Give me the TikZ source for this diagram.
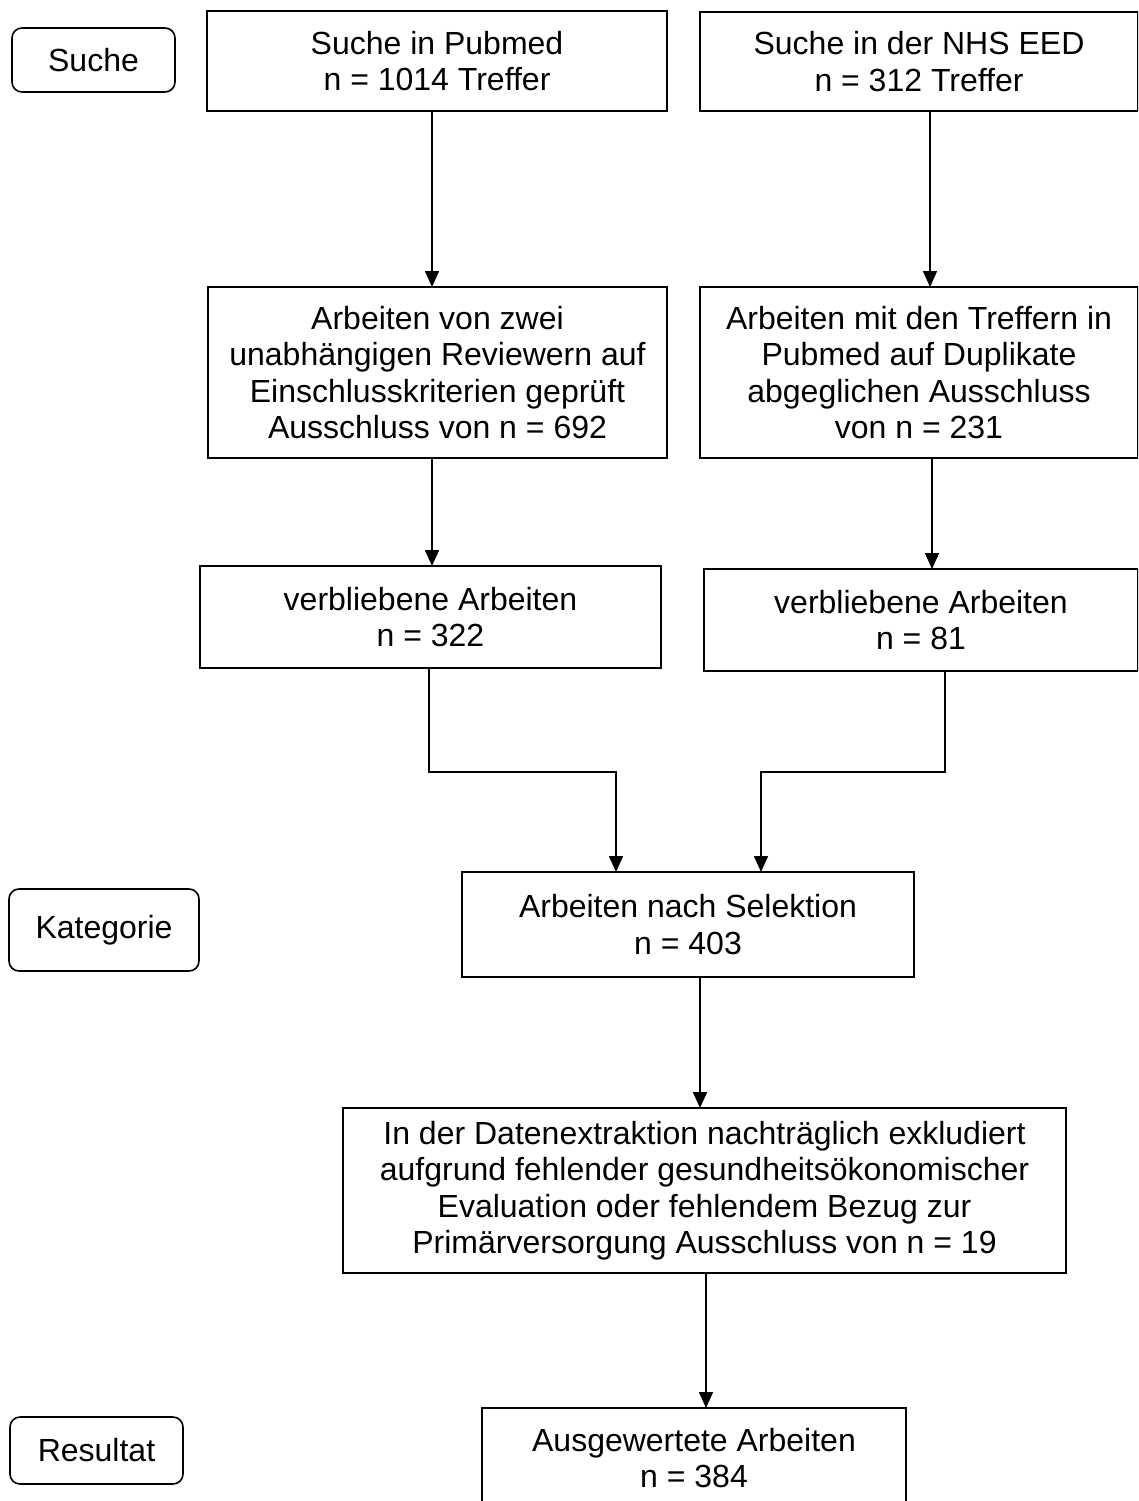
\documentclass[tikz,border=0pt]{standalone}
\usepackage{fontspec}
\setmainfont{Liberation Sans}
\usetikzlibrary{arrows.meta}
\begin{document}
\begin{tikzpicture}[x=1pt,y=-1pt,
 box/.style={draw, line width=1.6pt, rectangle, inner sep=0pt, outer sep=0pt, align=center, font=\fontsize{32}{36.5}\selectfont},
 lab/.style={box, rounded corners=10pt},
 arr/.style={line width=1.6pt, -{Triangle[width=14pt,length=16pt]}},
 ln/.style={line width=1.6pt}]
\useasboundingbox (0,0) rectangle (1138,1501);
\clip (0,0) rectangle (1138,1501);
\fill[white] (0,0) rectangle (1138,1501);
% labels
\node[lab, minimum width=163pt, minimum height=64pt] (suche) at (93.5,60) {Suche};
\node[lab, minimum width=190pt, minimum height=82pt] (kat) at (104,930) {Kategorie};
\node[lab, minimum width=173pt, minimum height=67pt] (res) at (96.5,1450.5) {Resultat};
% boxes
\node[box, minimum width=460pt, minimum height=100pt] (pub) at (437,61) {Suche in Pubmed\\n = 1014 Treffer};
\node[box, minimum width=438pt, minimum height=99pt] (nhs) at (919,61.5) {Suche in der NHS EED\\n = 312 Treffer};
\node[box, minimum width=459pt, minimum height=171pt] (rev) at (437.5,372.5) {Arbeiten von zwei\\unabhängigen Reviewern auf\\Einschlusskriterien geprüft\\Ausschluss von n = 692};
\node[box, minimum width=438pt, minimum height=171pt] (dup) at (919,372.5) {Arbeiten mit den Treffern in\\Pubmed auf Duplikate\\abgeglichen Ausschluss\\von n = 231};
\node[box, minimum width=461pt, minimum height=102pt] (v1) at (430.5,617) {verbliebene Arbeiten\\n = 322};
\node[box, minimum width=434pt, minimum height=102pt] (v2) at (921,620) {verbliebene Arbeiten\\n = 81};
\node[box, minimum width=452pt, minimum height=105pt] (sel) at (688,924.5) {Arbeiten nach Selektion\\n = 403};
\node[box, minimum width=723pt, minimum height=165pt] (dat) at (704.5,1190.5) {In der Datenextraktion nachträglich exkludiert\\aufgrund fehlender gesundheitsökonomischer\\Evaluation oder fehlendem Bezug zur\\Primärversorgung Ausschluss von n = 19};
\node[box, minimum width=424pt, minimum height=100pt] (aus) at (694,1458) {Ausgewertete Arbeiten\\n = 384};
% x positions of connectors
\coordinate (xa) at (432,0);
\coordinate (xb) at (930,0);
\coordinate (xc) at (932,0);
\coordinate (xd) at (429,0);
\coordinate (xe) at (616,0);
\coordinate (xf) at (945,0);
\coordinate (xg) at (761,0);
\coordinate (xh) at (700,0);
\coordinate (xi) at (706,0);
% connectors
\draw[arr] (pub.south -| xa) -- (rev.north -| xa);
\draw[arr] (nhs.south -| xb) -- (dup.north -| xb);
\draw[arr] (rev.south -| xa) -- (v1.north -| xa);
\draw[arr] (dup.south -| xc) -- (v2.north -| xc);
\draw[arr] (v1.south -| xd) -- ++(0,104) -| (sel.north -| xe);
\draw[arr] (v2.south -| xf) -- ++(0,101) -| (sel.north -| xg);
\draw[arr] (sel.south -| xh) -- (dat.north -| xh);
\draw[arr] (dat.south -| xi) -- (aus.north -| xi);
\end{tikzpicture}
\end{document}
